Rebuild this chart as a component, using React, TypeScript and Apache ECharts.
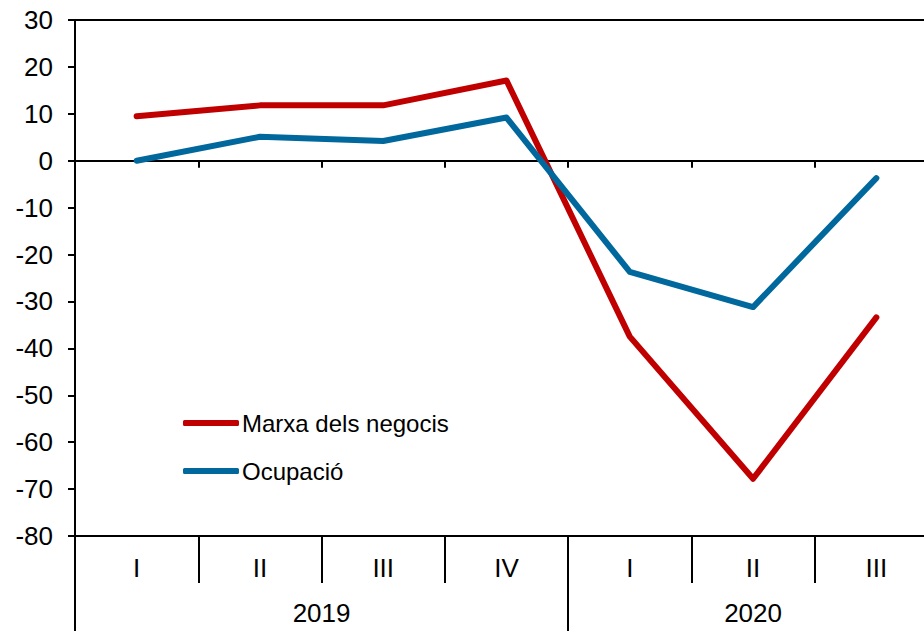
import React, { useEffect, useRef } from "react";
import * as echarts from "echarts";

const quarters = ["I", "II", "III", "IV", "I", "II", "III"];
const years = ["2019", "2020"];
const yearCenters = [2, 5.5];
const yearSeparators = [0, 4];
const marxa = [9.5, 11.8, 11.8, 17.1, -37.5, -67.8, -33.4];
const ocupacio = [0, 5.1, 4.2, 9.2, -23.7, -31.2, -3.7];
const seriesNames = ["Marxa dels negocis", "Ocupació"];

const FONT = 'Arial, "Liberation Sans", sans-serif';

export default function App() {
  const ref = useRef<HTMLDivElement>(null);
  useEffect(() => {
    document.body.style.margin = "0";
    document.body.style.overflow = "hidden";
    const chart = echarts.init(ref.current!, null, { renderer: "svg" });
    const black = "#000";
    chart.setOption({
      animation: false,
      backgroundColor: "#fff",
      grid: {
        left: 75,
        top: 20,
        right: 0,
        bottom: 95,
        show: true,
        borderColor: black,
        borderWidth: 2,
      },
      legend: {
        left: 183,
        top: 411,
        padding: 0,
        orient: "vertical",
        icon: "roundRect",
        itemWidth: 56,
        itemHeight: 6,
        itemGap: 24,
        textStyle: { fontFamily: FONT, fontSize: 24, color: "#000", padding: [0, 0, 0, -2] },
        data: seriesNames,
      },
      xAxis: [
        {
          type: "category",
          data: quarters,
          position: "bottom",
          axisLine: { onZero: false, lineStyle: { color: black, width: 2 } },
          axisTick: { show: true, interval: 0, length: 47, lineStyle: { color: black, width: 2 } },
          axisLabel: { interval: 0, margin: 19, fontFamily: FONT, fontSize: 26, color: black },
          splitLine: { show: false },
        },
        {
          type: "value",
          min: 0,
          max: 7,
          position: "bottom",
          axisLine: { show: false, onZero: false },
          axisTick: { show: true, customValues: yearSeparators, length: 95, lineStyle: { color: black, width: 2 } },
          axisLabel: {
            customValues: yearCenters,
            margin: 64,
            fontFamily: FONT,
            fontSize: 26,
            color: black,
            formatter: (v: number) => years[yearCenters.indexOf(v)] ?? "",
          },
          splitLine: { show: false },
        },
        {
          type: "category",
          data: quarters,
          position: "bottom",
          axisLine: { show: true, onZero: true, lineStyle: { color: black, width: 2 } },
          axisTick: { show: true, interval: 0, length: 7, lineStyle: { color: black, width: 2 } },
          axisLabel: { show: false },
          splitLine: { show: false },
        },
      ],
      yAxis: {
        type: "value",
        min: -80,
        max: 30,
        interval: 10,
        axisLine: { show: true, onZero: false, lineStyle: { color: black, width: 2 } },
        axisTick: { show: true, length: 7, lineStyle: { color: black, width: 2 } },
        axisLabel: { margin: 22, fontFamily: FONT, fontSize: 26, color: black },
        splitLine: { show: false },
      },
      series: [
        {
          name: seriesNames[0],
          type: "line",
          xAxisIndex: 0,
          data: marxa,
          symbol: "none",
          lineStyle: { color: "#C00000", width: 6, cap: "round", join: "round" },
          itemStyle: { color: "#C00000" },
        },
        {
          name: seriesNames[1],
          type: "line",
          xAxisIndex: 0,
          data: ocupacio,
          symbol: "none",
          lineStyle: { color: "#00689C", width: 6, cap: "round", join: "round" },
          itemStyle: { color: "#00689C" },
        },
      ],
    });
    return () => chart.dispose();
  }, []);
  return <div ref={ref} style={{ width: 938, height: 631 }} />;
}
